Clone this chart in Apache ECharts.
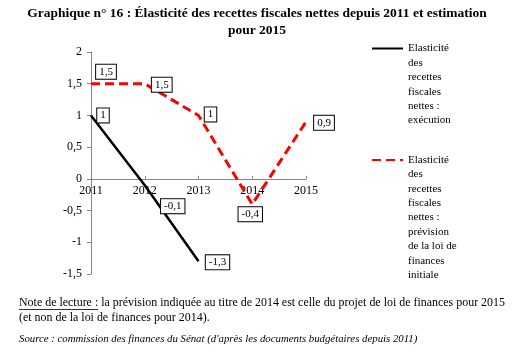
<!DOCTYPE html>
<html><head><meta charset="utf-8">
<script src="https://cdn.jsdelivr.net/npm/echarts@6/dist/echarts.min.js"></script>
<style>html,body{margin:0;padding:0;background:#fff}#c{width:515px;height:357px}</style>
</head><body><div id="c"></div>
<script>
// ---- data ----
const years = ['2011', '2012', '2013', '2014', '2015'];
const execution = [1, -0.1, -1.3, null, null];
const prevision = [1.5, 1.5, 1, -0.4, 0.9];
const yTickValues = [-1.5, -1, -0.5, 0, 0.5, 1, 1.5, 2];
const nameExec = 'Elasticité des recettes fiscales nettes : exécution';
const namePrev = 'Elasticité des recettes fiscales nettes : prévision de la loi de finances initiale';
const legendExecLines = ['Elasticité', 'des', 'recettes', 'fiscales', 'nettes :', 'exécution'];
const legendPrevLines = ['Elasticité', 'des', 'recettes', 'fiscales', 'nettes :', 'prévision', 'de la loi de', 'finances', 'initiale'];
const titleText = 'Graphique n° 16 : Élasticité des recettes fiscales nettes depuis 2011 et estimation\npour 2015';
const noteLabel = 'Note de lecture :';
const noteLine1 = 'Note de lecture : la prévision indiquée au titre de 2014 est celle du projet de loi de finances pour 2015';
const noteLine2 = '(et non de la loi de finances pour 2014).';
const sourceText = 'Source : commission des finances du Sénat (d\'après les documents budgétaires depuis 2011)';

// ---- layout (label offsets, not data) ----
const execOffsets = [[12, 0], [28, 21], [19, 1]];
const prevOffsets = [[15, -12], [17, 1], [12, -1], [-2, 10], [18, 1]];

const fmt = v => String(v).replace('.', ',');
const SERIF = '"Liberation Serif", "Times New Roman", serif';
const yMin = yTickValues[0], yMax = yTickValues[yTickValues.length - 1];
const GRID = { left: 91, top: 52, width: 215, height: 222 };
const zeroOffset = -GRID.height * (0 - yMin) / (yMax - yMin);

const noteFont = '11.95px ' + SERIF;
const measure = (t, f) => { const c = document.createElement('canvas').getContext('2d'); c.font = f; return c.measureText(t).width; };
const ulW = measure(noteLabel, noteFont);

const labelBase = {
  show: true, position: 'inside', color: '#000', fontFamily: SERIF, fontSize: 11,
  backgroundColor: '#fff', borderColor: '#000', borderWidth: 1, padding: [2, 3, 1, 3],
  formatter: p => fmt(p.value)
};
function mk(vals, offs) {
  return vals.map((v, i) => v === null ? null : ({ value: v, label: { offset: offs[i] } }));
}
const LH = 14.4;
// prepend blank lines so that first text line is vertically centred on the legend icon
const legendText = lines => Array(lines.length - 1).fill('').concat(lines).join('\n');
const legendTop = (iconY, n) => iconY - LH / 2 - (n - 1) * LH;
const legendCommon = {
  orient: 'vertical', left: 371, itemWidth: 31, itemHeight: 14, itemGap: 0, padding: 0,
  itemStyle: { color: 'transparent', borderWidth: 0 },
  textStyle: { fontFamily: SERIF, fontSize: 11, color: '#000', lineHeight: LH }
};
const chart = echarts.init(document.getElementById('c'), null, { renderer: 'canvas' });
chart.setOption({
  animation: false,
  backgroundColor: '#fff',
  grid: Object.assign({ containLabel: false }, GRID),
  legend: [
    Object.assign({}, legendCommon, {
      data: [nameExec], top: legendTop(48.5, legendExecLines.length),
      formatter: () => legendText(legendExecLines)
    }),
    Object.assign({}, legendCommon, {
      data: [namePrev], top: legendTop(160, legendPrevLines.length),
      formatter: () => legendText(legendPrevLines)
    })
  ],
  xAxis: {
    type: 'category', data: years, boundaryGap: false, position: 'bottom', offset: zeroOffset,
    axisLine: { onZero: false, lineStyle: { color: '#868686', width: 1 } },
    axisTick: { show: true, inside: true, length: 3, lineStyle: { color: '#868686' } },
    axisLabel: { fontFamily: SERIF, fontSize: 12, color: '#000', margin: 6 },
    splitLine: { show: false }
  },
  yAxis: {
    type: 'value', min: yMin, max: yMax, interval: 0.5,
    axisLine: { show: true, lineStyle: { color: '#868686', width: 1 } },
    axisTick: { show: true, length: 4, lineStyle: { color: '#868686' } },
    axisLabel: { fontFamily: SERIF, fontSize: 12, color: '#000', margin: 9, formatter: v => fmt(v) },
    splitLine: { show: false }
  },
  series: [
    {
      name: nameExec, type: 'line', data: mk(execution, execOffsets),
      symbol: 'circle', symbolSize: 1, showSymbol: true,
      itemStyle: { color: 'transparent' },
      lineStyle: { color: '#000', width: 2.5, type: 'solid' },
      label: labelBase, z: 3
    },
    {
      name: namePrev, type: 'line', data: mk(prevision, prevOffsets),
      symbol: 'circle', symbolSize: 1, showSymbol: true,
      itemStyle: { color: 'transparent' },
      lineStyle: { color: '#ff0000', width: 3, type: [9, 5] },
      label: labelBase, z: 2
    }
  ],
  graphic: [
    { type: 'text', x: 257, y: 5, style: { text: titleText, align: 'center', font: 'bold 13.5px ' + SERIF, lineHeight: 17, fill: '#000' } },
    { type: 'text', left: 19, top: 297, style: { text: noteLine1, font: noteFont, fill: '#000' } },
    { type: 'line', shape: { x1: 19, y1: 309.5, x2: 19 + ulW, y2: 309.5 }, style: { stroke: '#000', lineWidth: 0.8 } },
    { type: 'text', left: 19, top: 312, style: { text: noteLine2, font: noteFont, fill: '#000' } },
    { type: 'text', left: 19, top: 334, style: { text: sourceText, font: 'italic 10.8px ' + SERIF, fill: '#000' } }
  ]
});
</script></body></html>
